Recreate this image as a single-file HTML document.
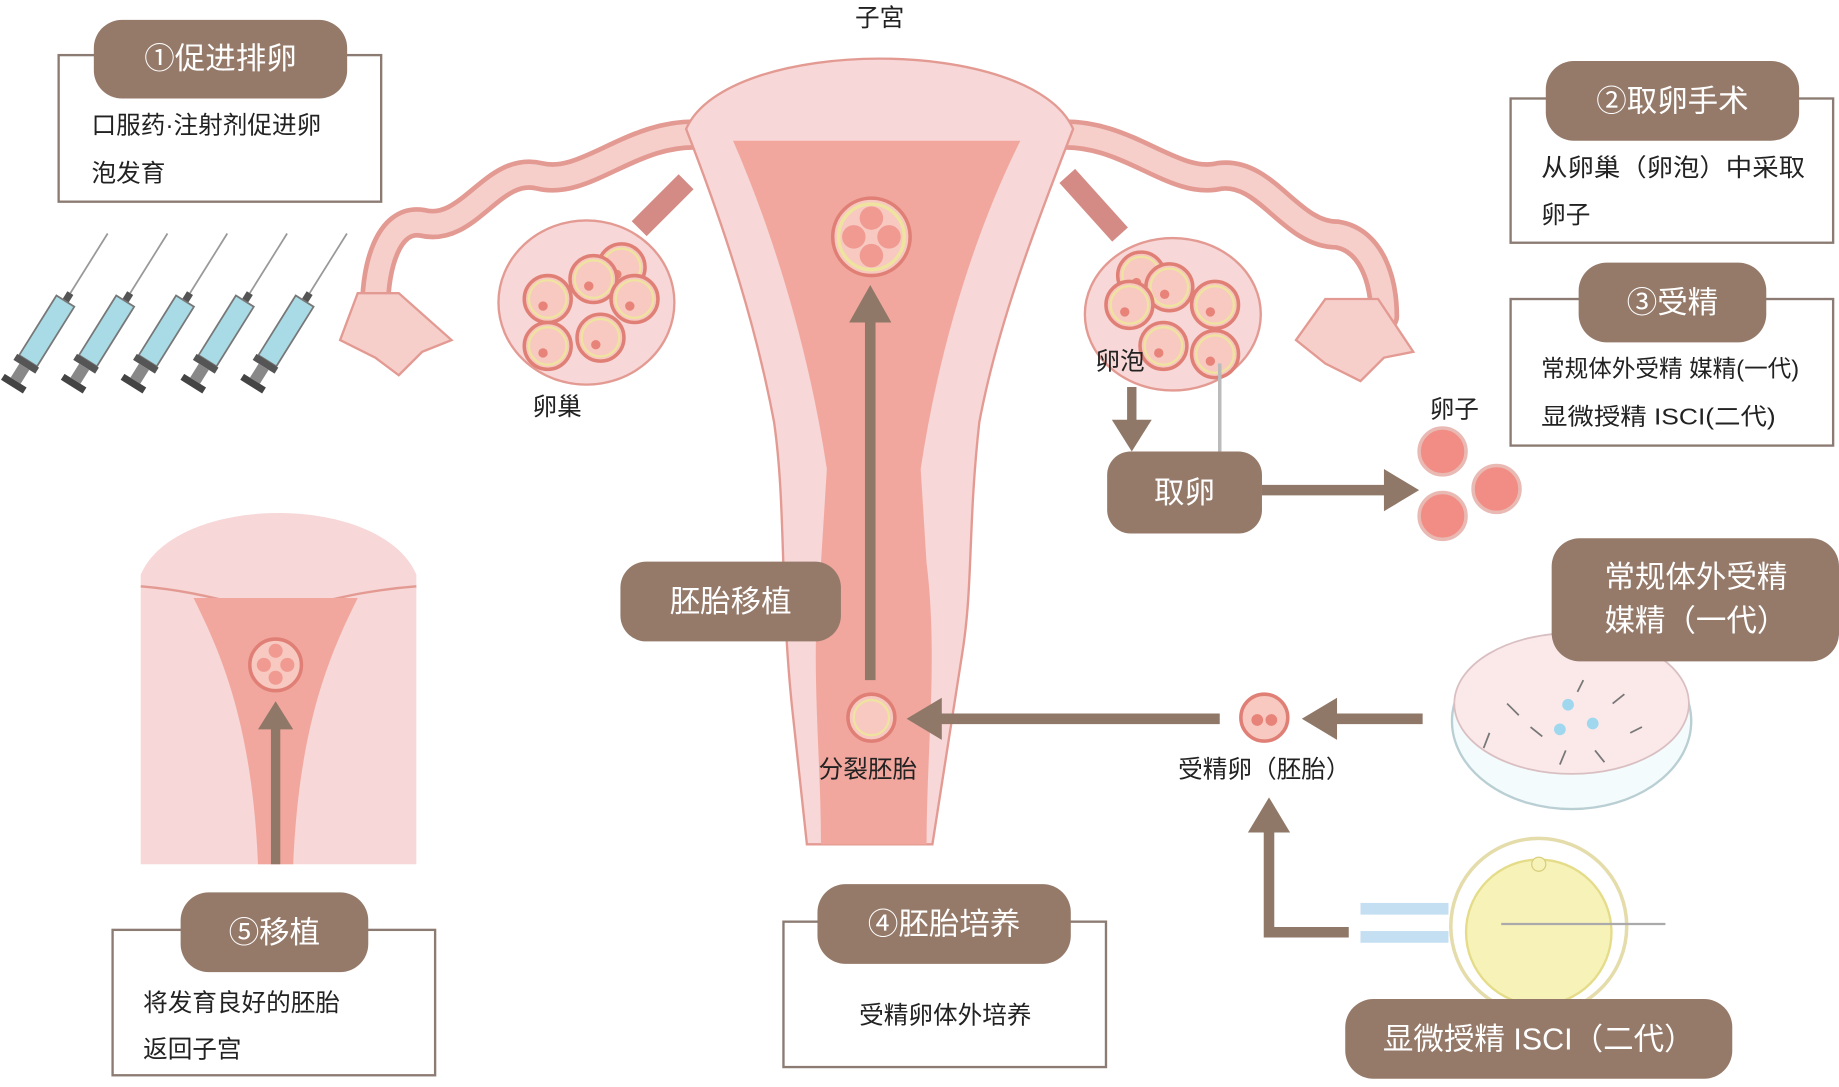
<!DOCTYPE html>
<html><head><meta charset="utf-8"><style>
html,body{margin:0;padding:0;background:#fff;}
svg{display:block;font-family:"Liberation Sans","Noto Sans CJK SC",sans-serif;}
</style></head><body>
<svg width="1839" height="1087" viewBox="0 0 1568 927" preserveAspectRatio="none" xmlns="http://www.w3.org/2000/svg">
<defs>
<g id="syr">
 <line x1="0" y1="0" x2="0" y2="-60" stroke="#999" stroke-width="1.5"/>
 <rect x="-3" y="0" width="6" height="8" fill="#555"/>
 <rect x="-9" y="8" width="18" height="60" fill="#a9dbe6" stroke="#777" stroke-width="1.5"/>
 <rect x="-11" y="68" width="22" height="6" fill="#555"/>
 <rect x="-5" y="74" width="10" height="14" fill="#888"/>
 <rect x="-11" y="88" width="22" height="6" fill="#444"/>
</g>
<g id="fol"><circle r="20" fill="#f7c9c0" stroke="#e07f76" stroke-width="3"/><circle r="16" fill="none" stroke="#efe3a0" stroke-width="2"/><circle cx="-4" cy="6" r="4" fill="#e8837a"/></g>
</defs>

<!-- Box 1 -->
<rect x="50" y="47" width="275" height="125" fill="#fff" stroke="#8b7b72" stroke-width="2"/>
<rect x="80" y="17" width="216" height="67" rx="24" fill="#957a6a"/>
<text x="188" y="59" font-size="26" fill="#fff" text-anchor="middle">①促进排卵</text>
<text x="78" y="114" font-size="21" fill="#222">口服药·注射剂促进卵</text>
<text x="78" y="155" font-size="21" fill="#222">泡发育</text>

<!-- syringes -->
<g transform="translate(60,250) rotate(32)"><use href="#syr"/></g>
<g transform="translate(111,250) rotate(32)"><use href="#syr"/></g>
<g transform="translate(162,250) rotate(32)"><use href="#syr"/></g>
<g transform="translate(213,250) rotate(32)"><use href="#syr"/></g>
<g transform="translate(264,250) rotate(32)"><use href="#syr"/></g>

<!-- tubes -->
<path d="M600,115 C540,110 500,160 460,150 C420,140 400,200 360,190 C330,185 320,230 320,260" fill="none" stroke="#e39a92" stroke-width="26" stroke-linecap="round"/>
<path d="M600,115 C540,110 500,160 460,150 C420,140 400,200 360,190 C330,185 320,230 320,260" fill="none" stroke="#f6cfcb" stroke-width="18" stroke-linecap="round"/>
<path d="M900,115 C960,110 1000,160 1040,150 C1080,145 1100,200 1140,200 C1170,205 1180,240 1180,270" fill="none" stroke="#e39a92" stroke-width="26" stroke-linecap="round"/>
<path d="M900,115 C960,110 1000,160 1040,150 C1080,145 1100,200 1140,200 C1170,205 1180,240 1180,270" fill="none" stroke="#f6cfcb" stroke-width="18" stroke-linecap="round"/>
<path d="M290,290 L305,250 L340,250 L385,290 L360,300 L340,320 L320,305 Z" fill="#f6cfcb" stroke="#e39a92" stroke-width="2"/>
<path d="M1105,290 L1130,255 L1175,255 L1205,300 L1180,305 L1160,325 L1130,310 Z" fill="#f6cfcb" stroke="#e39a92" stroke-width="2"/>
<!-- ligaments -->
<path d="M585,155 L545,195" stroke="#d48b85" stroke-width="18"/>
<path d="M910,150 L955,200" stroke="#d48b85" stroke-width="18"/>

<!-- uterus -->
<path d="M585,110 C620,30 880,30 915,110 C880,200 850,280 835,360 C825,450 830,500 820,560 L795,720 L688,720 L675,600 C665,500 670,430 660,360 C645,280 620,200 585,110 Z" fill="#f7d7d7" stroke="#e39a92" stroke-width="2"/>
<path d="M625,120 L870,120 C830,200 800,300 785,400 L790,480 C800,560 790,640 790,720 L700,720 C700,640 690,560 700,480 L705,400 C690,300 660,200 625,120 Z" fill="#f2a79e"/>

<!-- ovaries -->
<ellipse cx="500" cy="258" rx="75" ry="70" fill="#f7d7d7" stroke="#e39a92" stroke-width="2"/>
<use href="#fol" x="530" y="228"/><use href="#fol" x="506" y="238"/><use href="#fol" x="467" y="255"/>
<use href="#fol" x="541" y="255"/><use href="#fol" x="512" y="288"/><use href="#fol" x="467" y="295"/>
<ellipse cx="1000" cy="268" rx="75" ry="65" fill="#f7d7d7" stroke="#e39a92" stroke-width="2"/>
<use href="#fol" x="973" y="235"/><use href="#fol" x="997" y="245"/><use href="#fol" x="963" y="260"/>
<use href="#fol" x="1036" y="260"/><use href="#fol" x="992" y="295"/><use href="#fol" x="1036" y="302"/>
<line x1="1040" y1="310" x2="1040" y2="385" stroke="#bbb" stroke-width="3"/>

<text x="750" y="22" font-size="21" fill="#222" text-anchor="middle">子宮</text>
<text x="475" y="354" font-size="21" fill="#222" text-anchor="middle">卵巢</text>
<text x="955" y="315" font-size="21" fill="#222" text-anchor="middle">卵泡</text>
<text x="1240" y="356" font-size="21" fill="#222" text-anchor="middle">卵子</text>

<!-- embryo in uterus -->
<circle cx="743" cy="202" r="33" fill="#f7c9c0" stroke="#e07f76" stroke-width="3"/>
<circle cx="743" cy="202" r="28" fill="none" stroke="#efe3a0" stroke-width="3"/>
<circle cx="743" cy="186" r="10" fill="#f09a91"/><circle cx="728" cy="202" r="10" fill="#f09a91"/><circle cx="758" cy="202" r="10" fill="#f09a91"/><circle cx="743" cy="218" r="10" fill="#f09a91"/>
<!-- vertical arrow -->
<line x1="742" y1="580" x2="742" y2="270" stroke="#8f7868" stroke-width="9"/>
<polygon points="742,243 724,275 760,275" fill="#8f7868"/>
<circle cx="743" cy="612" r="20" fill="#f7c9c0" stroke="#e07f76" stroke-width="3"/>
<circle cx="743" cy="612" r="15" fill="none" stroke="#efe3a0" stroke-width="2"/>
<text x="740" y="663" font-size="21" fill="#222" text-anchor="middle">分裂胚胎</text>

<!-- 胚胎移植 -->
<rect x="529" y="479" width="188" height="68" rx="22" fill="#957a6a"/>
<text x="623" y="522" font-size="26" fill="#fff" text-anchor="middle">胚胎移植</text>

<!-- 取卵 -->
<line x1="965" y1="330" x2="965" y2="362" stroke="#8f7868" stroke-width="8"/>
<polygon points="965,385 948,358 982,358" fill="#8f7868"/>
<rect x="944" y="385" width="132" height="70" rx="20" fill="#957a6a"/>
<text x="1010" y="429" font-size="26" fill="#fff" text-anchor="middle">取卵</text>
<line x1="1076" y1="418" x2="1185" y2="418" stroke="#8f7868" stroke-width="9"/>
<polygon points="1210,418 1180,400 1180,436" fill="#8f7868"/>
<g fill="#f28d85" stroke="#e9b9b3" stroke-width="3"><circle cx="1230" cy="385" r="20"/><circle cx="1276" cy="417" r="20"/><circle cx="1230" cy="440" r="20"/></g>

<!-- Box 2 -->
<rect x="1288" y="84" width="275" height="123" fill="#fff" stroke="#8b7b72" stroke-width="2"/>
<rect x="1318" y="52" width="216" height="68" rx="24" fill="#957a6a"/>
<text x="1426" y="95" font-size="26" fill="#fff" text-anchor="middle">②取卵手术</text>
<text x="1314" y="150" font-size="21" fill="#222" textLength="225" lengthAdjust="spacingAndGlyphs">从卵巢（卵泡）中采取</text>
<text x="1314" y="190" font-size="21" fill="#222">卵子</text>

<!-- Box 3 -->
<rect x="1288" y="255" width="275" height="125" fill="#fff" stroke="#8b7b72" stroke-width="2"/>
<rect x="1346" y="224" width="160" height="68" rx="24" fill="#957a6a"/>
<text x="1426" y="267" font-size="26" fill="#fff" text-anchor="middle">③受精</text>
<text x="1314" y="321" font-size="20" fill="#222" textLength="220" lengthAdjust="spacingAndGlyphs">常规体外受精 媒精(一代)</text>
<text x="1314" y="362" font-size="20" fill="#222" textLength="200" lengthAdjust="spacingAndGlyphs">显微授精 ISCI(二代)</text>

<!-- dish -->
<ellipse cx="1340" cy="615" rx="102" ry="75" fill="#f4fbfc" stroke="#b9cfd3" stroke-width="2"/>
<ellipse cx="1340" cy="600" rx="100" ry="60" fill="#fbe9ea" stroke="#d9bfc2" stroke-width="1.5"/>
<circle cx="1337" cy="601" r="5" fill="#9fd8ee"/><circle cx="1330" cy="622" r="5" fill="#9fd8ee"/><circle cx="1358" cy="617" r="5" fill="#9fd8ee"/>
<g stroke="#777" stroke-width="1.5"><line x1="1285" y1="600" x2="1295" y2="610"/><line x1="1305" y1="620" x2="1315" y2="628"/><line x1="1375" y1="600" x2="1385" y2="592"/><line x1="1390" y1="625" x2="1400" y2="620"/><line x1="1360" y1="640" x2="1368" y2="650"/><line x1="1270" y1="625" x2="1265" y2="638"/><line x1="1335" y1="640" x2="1330" y2="652"/><line x1="1350" y1="580" x2="1345" y2="590"/></g>

<!-- 常规 pill -->
<rect x="1323" y="459" width="245" height="105" rx="24" fill="#957a6a"/>
<text x="1446" y="501" font-size="26" fill="#fff" text-anchor="middle">常规体外受精</text>
<text x="1446" y="538" font-size="26" fill="#fff" text-anchor="middle">媒精（一代）</text>

<!-- fertilized egg + arrows -->
<line x1="1213" y1="613" x2="1135" y2="613" stroke="#8f7868" stroke-width="9"/>
<polygon points="1110,613 1140,595 1140,631" fill="#8f7868"/>
<circle cx="1078" cy="612" r="20" fill="#f7c9c0" stroke="#e07f76" stroke-width="3"/>
<circle cx="1072" cy="614" r="5" fill="#e8837a"/><circle cx="1084" cy="614" r="5" fill="#e8837a"/>
<text x="1078" y="663" font-size="21" fill="#222" text-anchor="middle">受精卵（胚胎）</text>
<line x1="1040" y1="613" x2="800" y2="613" stroke="#8f7868" stroke-width="9"/>
<polygon points="773,613 803,595 803,631" fill="#8f7868"/>
<polyline points="1150,795 1082,795 1082,705" fill="none" stroke="#8f7868" stroke-width="9"/>
<polygon points="1082,680 1064,710 1100,710" fill="#8f7868"/>

<!-- ICSI -->
<ellipse cx="1312" cy="790" rx="75" ry="75" fill="#fff" stroke="#e4dcaa" stroke-width="3"/>
<ellipse cx="1312" cy="795" rx="62" ry="62" fill="#f7f2b8" stroke="#e5dc8a" stroke-width="2"/>
<circle cx="1312" cy="737" r="6" fill="#f7f2b8" stroke="#d6cc7a"/>
<rect x="1160" y="770" width="75" height="10" fill="#c5dff2"/><rect x="1160" y="794" width="75" height="10" fill="#c5dff2"/>
<line x1="1280" y1="788" x2="1420" y2="788" stroke="#aaa" stroke-width="2"/>
<rect x="1147" y="852" width="330" height="68" rx="24" fill="#957a6a"/>
<text x="1312" y="895" font-size="26" fill="#fff" text-anchor="middle">显微授精 ISCI（二代）</text>

<!-- Box 4 -->
<rect x="668" y="786" width="275" height="124" fill="#fff" stroke="#8b7b72" stroke-width="2"/>
<rect x="697" y="754" width="216" height="68" rx="24" fill="#957a6a"/>
<text x="805" y="797" font-size="26" fill="#fff" text-anchor="middle">④胚胎培养</text>
<text x="806" y="873" font-size="21" fill="#222" text-anchor="middle">受精卵体外培养</text>

<!-- small uterus -->
<path d="M120,490 C150,420 325,420 355,490 L355,737 L120,737 Z" fill="#f7d7d7"/>
<path d="M120,500 C180,505 210,520 235,520 C260,520 290,505 355,500" fill="none" stroke="#e39a92" stroke-width="2"/>
<path d="M165,510 L305,510 C280,560 255,620 250,737 L220,737 C215,620 190,560 165,510 Z" fill="#f2a79e"/>
<circle cx="235" cy="567" r="22" fill="#f7c9c0" stroke="#e07f76" stroke-width="3"/>
<circle cx="235" cy="555" r="6" fill="#f09a91"/><circle cx="225" cy="567" r="6" fill="#f09a91"/><circle cx="245" cy="567" r="6" fill="#f09a91"/><circle cx="235" cy="578" r="6" fill="#f09a91"/>
<line x1="235" y1="737" x2="235" y2="620" stroke="#8f7868" stroke-width="8"/>
<polygon points="235,598 220,622 250,622" fill="#8f7868"/>

<!-- Box 5 -->
<rect x="96" y="793" width="275" height="124" fill="#fff" stroke="#8b7b72" stroke-width="2"/>
<rect x="154" y="761" width="160" height="68" rx="24" fill="#957a6a"/>
<text x="234" y="804" font-size="26" fill="#fff" text-anchor="middle">⑤移植</text>
<text x="122" y="862" font-size="21" fill="#222">将发育良好的胚胎</text>
<text x="122" y="902" font-size="21" fill="#222">返回子宫</text>
</svg>
</body></html>
